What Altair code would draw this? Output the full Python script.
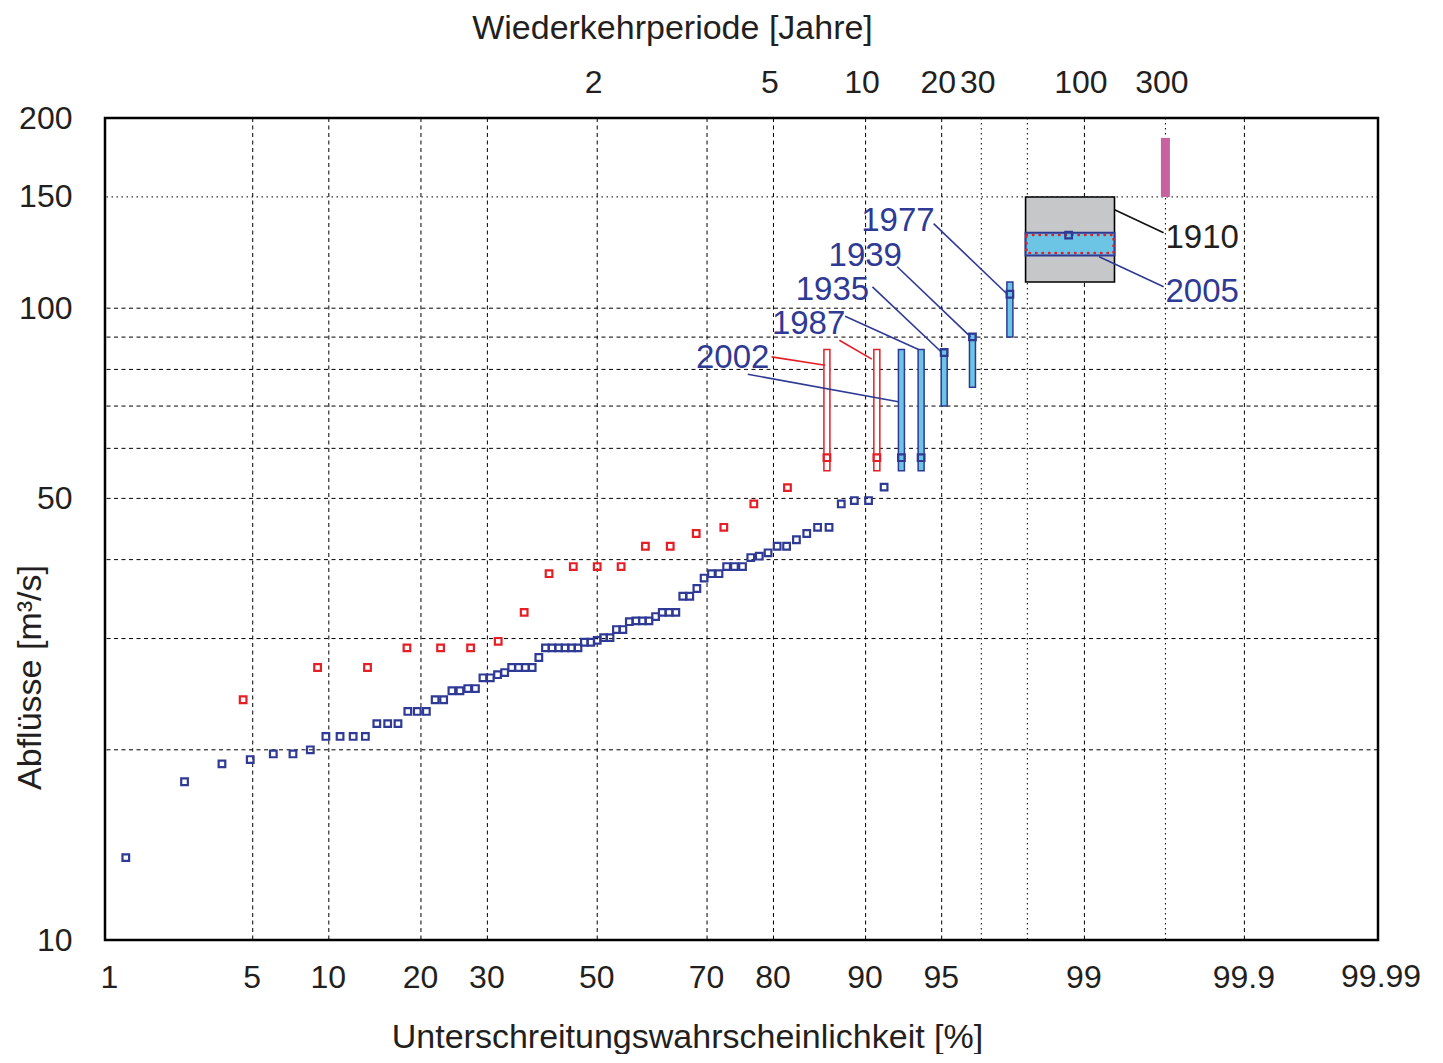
import altair as alt
import pandas as pd
from statistics import NormalDist

_nd = NormalDist()


def zval(p):
    return _nd.inv_cdf(p)


FONT = "Liberation Sans"
TXT = "#231f20"
BLUE = "#2e3a94"
RED = "#e41f26"
LIGHTBLUE = "#6cc5e5"
GRAY = "#c6c7c9"
MAGENTA = "#c8619f"

# ---------------- data ----------------
# blue series: sorted annual peak discharges [m3/s], n = 81 (Weibull plotting positions)
blue_q = [13.5, 17.8, 19.0, 19.3, 19.7, 19.7, 20.0,
          21.0, 21.0, 21.0, 21.0, 22.0, 22.0, 22.0, 23.0, 23.0, 23.0,
          24.0, 24.0, 24.8, 24.8, 25.0, 25.0, 26.0, 26.0, 26.3, 26.5,
          27.0, 27.0, 27.0, 27.0, 28.0, 29.0, 29.0, 29.0, 29.0, 29.0, 29.0,
          29.6, 29.6, 29.8, 30.1, 30.1, 31.0, 31.0, 31.9, 32.0, 32.0, 32.0,
          32.5, 33.0, 33.0, 33.0, 35.0, 35.0, 36.0, 37.4, 38.0, 38.0,
          39.0, 39.0, 39.0, 40.3, 40.5, 41.0, 42.0, 42.0, 43.0, 44.0,
          45.0, 45.0, 49.0, 49.6, 49.6, 52.1, 58.0, 58.0, 85.1, 90.1,
          105.2, 130.5]
blue_n = 81

# red series: sorted peak discharges [m3/s], sample size 21
red_q = [24.0, 27.0, 27.0, 29.0, 29.0, 29.0, 29.7, 33.0, 38.0, 39.0,
         39.0, 39.0, 42.0, 42.0, 44.0, 45.0, 49.0, 52.0, 58.0, 58.0]
red_n = 21

# uncertainty range bars of historic events (series, rank, low, high)
bar_series = ["red", "red", "blue", "blue", "blue", "blue", "blue"]
bar_rank = [19, 20, 76, 77, 78, 79, 80]
bar_low = [55.3, 55.3, 55.3, 55.3, 70.0, 75.0, 90.0]
bar_high = [86.0, 86.0, 86.0, 86.0, 86.0, 91.0, 110.0]

# boxes (return period range [years], discharge range [m3/s])
box1910_T = [49, 148]
box1910_Q = [110.0, 150.0]
box2005_T = [49, 148]
box2005_Q = [121.2, 131.6]
box2005_in_T = [49.5, 146]
box2005_in_Q = [122.3, 130.6]
bar300_T = 300
bar300_Q = [150.0, 186.0]

# event labels (text, probability %, discharge at baseline)
lab_text = ["1977", "1939", "1935", "1987", "2002"]
lab_p = [92.45, 89.97, 86.93, 84.36, 74.11]
lab_q = [132.6, 116.7, 102.9, 90.98, 80.56]
lab2_text = ["1910", "2005"]
lab2_p = [99.667, 99.667]
lab2_q = [124.6, 102.3]
lab2_color = [TXT, BLUE]

# leader lines (p1 %, q1, p2 %, q2, colour)
ln_p1 = [94.59, 92.40, 90.56, 88.17, 76.39, 79.75, 87.62, 99.325, 99.173]
ln_q1 = [136.1, 116.3, 108.1, 97.1, 78.6, 83.75, 88.99, 143.2, 120.6]
ln_p2 = [97.49, 96.27, 95.01, 93.75, 92.48, 86.18, 90.51, 99.658, 99.658]
ln_q2 = [105.2, 90.1, 85.1, 86.0, 71.1, 81.25, 83.06, 131.6, 108.1]
ln_col = [BLUE, BLUE, BLUE, BLUE, BLUE, RED, RED, "#111111", BLUE]

# axes / grid
x_domain_pct = [1.0, 99.9894]
x_tick_pct = [1, 5, 10, 20, 30, 50, 70, 80, 90, 95, 99, 99.9]
x_tick_lbl = ["1", "5", "10", "20", "30", "50", "70", "80", "90", "95", "99", "99.9"]
x_last_pct = 99.99
x_last_lbl = "99.99"
T_tick = [2, 5, 10, 20, 30, 100, 300]
vgrid_pct = [5, 10, 20, 30, 50, 70, 80, 90, 95, 99, 99.9]
vgrid_T = [30, 50, 300]
hgrid_dashed = [20, 30, 40, 50, 60, 70, 80, 90, 100]
hgrid_dotted = [150]
y_tick = [10, 50, 100, 150, 200]

# ---------------- tables ----------------
def zp(pct):
    return zval(pct / 100.0)


def zT(T):
    return zval(1.0 - 1.0 / T)


df_blue = pd.DataFrame({"q": blue_q, "z": [zval((i + 1) / (blue_n + 1)) for i in range(len(blue_q))]})
df_red = pd.DataFrame({"q": red_q, "z": [zval((i + 1) / (red_n + 1)) for i in range(len(red_q))]})

df_bars = pd.DataFrame({
    "series": bar_series,
    "z": [zval(r / ((blue_n if s == "blue" else red_n) + 1)) for s, r in zip(bar_series, bar_rank)],
    "lo": bar_low, "hi": bar_high,
})
df_bars_red = df_bars[df_bars.series == "red"]
df_bars_blue = df_bars[df_bars.series == "blue"]

df_box1910 = pd.DataFrame({"z": [zT(box1910_T[0])], "z2": [zT(box1910_T[1])],
                           "lo": [box1910_Q[0]], "hi": [box1910_Q[1]]})
df_box2005 = pd.DataFrame({"z": [zT(box2005_T[0])], "z2": [zT(box2005_T[1])],
                           "lo": [box2005_Q[0]], "hi": [box2005_Q[1]]})
df_box2005in = pd.DataFrame({"z": [zT(box2005_in_T[0])], "z2": [zT(box2005_in_T[1])],
                             "lo": [box2005_in_Q[0]], "hi": [box2005_in_Q[1]]})
df_bar300 = pd.DataFrame({"z": [zT(bar300_T)], "lo": [bar300_Q[0]], "hi": [bar300_Q[1]]})

df_lab = pd.DataFrame({"t": lab_text, "z": [zp(p) for p in lab_p], "q": lab_q})
df_lab2 = pd.DataFrame({"t": lab2_text, "z": [zp(p) for p in lab2_p], "q": lab2_q, "c": lab2_color})
df_ln = pd.DataFrame({"z": [zp(p) for p in ln_p1], "q": ln_q1,
                      "z2": [zp(p) for p in ln_p2], "q2": ln_q2, "c": ln_col})
df_last = pd.DataFrame({"t": [x_last_lbl], "z": [zp(x_last_pct)], "q": [y_tick[0]]})

df_vgrid = pd.DataFrame({"z": [zp(p) for p in vgrid_pct]})
df_vgridT = pd.DataFrame({"z": [zT(T) for T in vgrid_T]})
df_hgrid = pd.DataFrame({"q": hgrid_dashed})
df_hgrid2 = pd.DataFrame({"q": hgrid_dotted})


def chain(vals, labels):
    s = ""
    for v, l in zip(vals, labels):
        s += f"abs(datum.value - ({v:.6f})) < 0.0005 ? '{l}' : "
    return s + "''"


x_tick_z = [zp(p) for p in x_tick_pct]
T_tick_z = [zT(T) for T in T_tick]

xscale = alt.Scale(domain=[zp(x_domain_pct[0]), zp(x_domain_pct[1])], nice=False, zero=False)
yscale = alt.Scale(type="log", domain=[10, 200], nice=False)

axis_common = dict(grid=False, ticks=False, tickSize=0, domain=False,
                   labelFont=FONT, labelFontSize=32, labelColor=TXT,
                   titleFont=FONT, titleFontSize=34, titleFontWeight="normal",
                   titleColor=TXT, labelOverlap=False, labelFlush=False)

ax_bottom = alt.Axis(orient="bottom", values=x_tick_z, labelExpr=chain(x_tick_z, x_tick_lbl),
                     title="Unterschreitungswahrscheinlichkeit [%]",
                     labelPadding=47, labelBaseline="alphabetic", labelOffset=-1,
                     titleX=582, titleY=107, titleBaseline="alphabetic", titleAlign="center",
                     **axis_common)
ax_top = alt.Axis(orient="top", values=T_tick_z, labelExpr=chain(T_tick_z, [str(t) for t in T_tick]),
                  title="Wiederkehrperiode [Jahre]",
                  labelPadding=26, labelBaseline="alphabetic", labelOffset=-4,
                  titleX=567, titleY=-80, titleBaseline="alphabetic", titleAlign="center",
                  **axis_common)
ax_left = alt.Axis(orient="left", values=y_tick, labelExpr="'' + datum.value",
                   title="Abflüsse [m³/s]",
                   labelPadding=33, titleX=-75, titleY=559, titleAngle=270,
                   titleAlign="center", titleBaseline="middle", **axis_common)


def Y(field):
    return alt.Y(field, scale=yscale, axis=ax_left)


def X(field):
    return alt.X(field, scale=xscale, axis=None)


DASH = [4, 3.5]
DOT = [1.5, 3.5]

vgrid = alt.Chart(df_vgrid).mark_rule(color="black", strokeWidth=1, strokeDash=DASH).encode(
    x=alt.X("z:Q", scale=xscale, axis=ax_bottom))
vgridT = alt.Chart(df_vgridT).mark_rule(color="black", strokeWidth=1, strokeDash=DOT).encode(
    x=alt.X("z:Q", scale=xscale, axis=ax_top))
hgrid = alt.Chart(df_hgrid).mark_rule(color="black", strokeWidth=1, strokeDash=DASH).encode(
    y=Y("q:Q"))
hgrid2 = alt.Chart(df_hgrid2).mark_rule(color="black", strokeWidth=1, strokeDash=DOT).encode(
    y=Y("q:Q"))


def rect_layer(df, **mk):
    return alt.Chart(df).mark_rect(**mk).encode(
        x=X("z:Q"), x2="z2:Q", y=Y("lo:Q"), y2="hi:Q")


box1910 = rect_layer(df_box1910, fill=GRAY, stroke="black", strokeWidth=1.6)
box2005 = rect_layer(df_box2005, fill=LIGHTBLUE, stroke=BLUE, strokeWidth=2)
box2005in = rect_layer(df_box2005in, fillOpacity=0, stroke=RED, strokeWidth=2.5,
                       strokeDash=[0.5, 6], strokeCap="round")


def bar_layer(df, size, **mk):
    return alt.Chart(df).mark_bar(size=size, **mk).encode(
        x=X("z:Q"), y=Y("lo:Q"), y2="hi:Q")


bar300 = bar_layer(df_bar300, 9, fill=MAGENTA)
bars_red = bar_layer(df_bars_red, 6, fill="white", stroke=RED, strokeWidth=1.5)
bars_blue = bar_layer(df_bars_blue, 6, fill=LIGHTBLUE, stroke=BLUE, strokeWidth=1.5)

lines = alt.Chart(df_ln).mark_rule(strokeWidth=1.6).encode(
    x=X("z:Q"), x2="z2:Q", y=Y("q:Q"), y2="q2:Q",
    color=alt.Color("c:N", scale=None))


def pts(df, col):
    return alt.Chart(df).mark_point(shape="square", filled=False, size=44, strokeWidth=2.2,
                                    color=col, opacity=1).encode(
        x=X("z:Q"), y=Y("q:Q"))


pts_red = pts(df_red, RED)
pts_blue = pts(df_blue, BLUE)

labels = alt.Chart(df_lab).mark_text(font=FONT, fontSize=33, align="center",
                                     baseline="alphabetic", color=BLUE).encode(
    x=X("z:Q"), y=Y("q:Q"), text="t:N")
labels2 = alt.Chart(df_lab2).mark_text(font=FONT, fontSize=33, align="left",
                                       baseline="alphabetic").encode(
    x=X("z:Q"), y=Y("q:Q"), text="t:N",
    color=alt.Color("c:N", scale=None))
last_lbl = alt.Chart(df_last).mark_text(font=FONT, fontSize=32, align="center",
                                        baseline="alphabetic", dy=47, dx=5, color=TXT).encode(
    x=X("z:Q"), y=Y("q:Q"), text="t:N")

chart = alt.layer(
    vgrid, vgridT, hgrid, hgrid2,
    box1910, box2005, box2005in, bar300,
    bars_red, bars_blue, lines, pts_red, pts_blue, labels, labels2, last_lbl,
).resolve_axis(x="independent").properties(
    width=1273, height=822,
    padding={"left": 97, "top": 110, "right": 55, "bottom": 114},
    autosize=alt.AutoSizeParams(type="none"),
    background="white",
).configure_view(stroke="black", strokeWidth=2.5)

chart.save("out.html", embed_options={"renderer": "svg", "actions": False})
